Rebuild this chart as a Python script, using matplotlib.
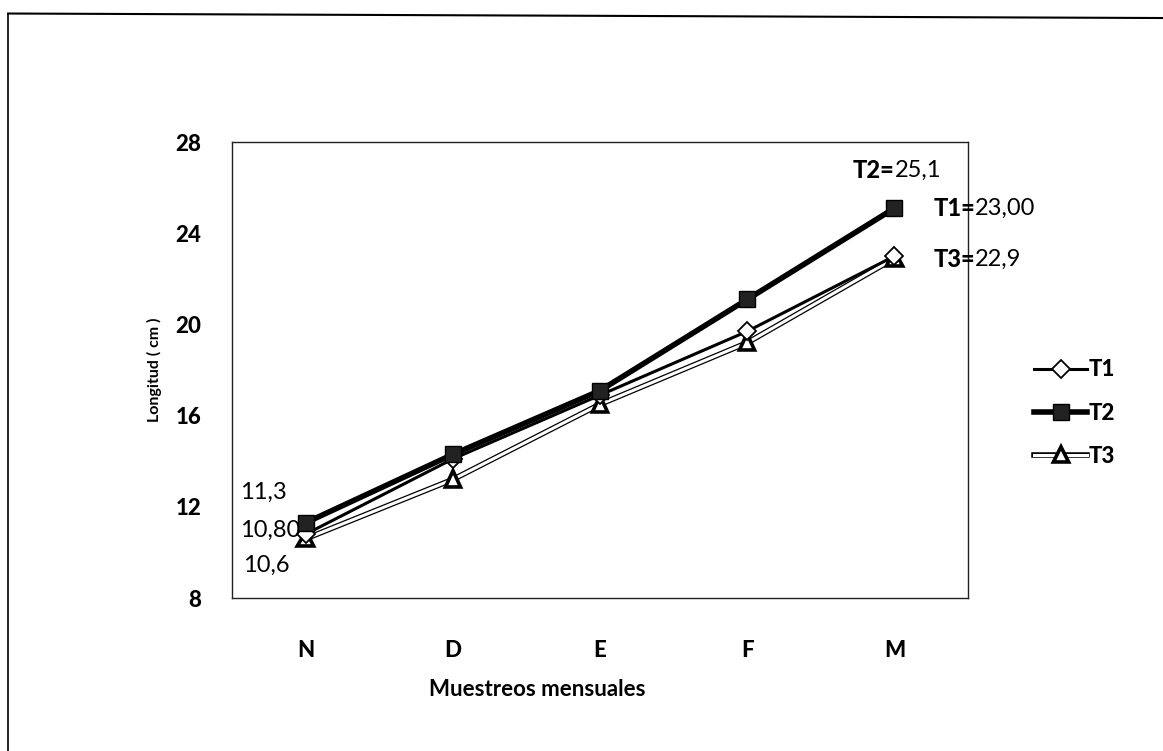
import matplotlib.pyplot as plt
import matplotlib.patheffects as pe
from matplotlib.lines import Line2D
import numpy as np

plt.rcParams['font.family'] = ['Lato', 'DejaVu Sans']

meses = ['N', 'D', 'E', 'F', 'M']
T1 = [10.8, 14.1, 16.9, 19.7, 23.0]
T2 = [11.3, 14.3, 17.1, 21.1, 25.1]
T3 = [10.6, 13.2, 16.5, 19.2, 22.9]

x = np.arange(len(meses))

fig = plt.figure(figsize=(11.63, 7.51), dpi=100)
ax = fig.add_axes([0.1995, 0.2037, 0.6328, 0.607])

# T3: linea blanca con contorno negro
ax.plot(x, T3, color='white', lw=2.2, marker='^', markersize=9,
        markerfacecolor='white', markeredgecolor='black', markeredgewidth=1.2,
        label='T3', zorder=2,
        path_effects=[pe.Stroke(linewidth=4, foreground='black'), pe.Normal()])
ax.plot(x, T1, color='black', lw=2.2, marker='D', markersize=9,
        markerfacecolor='white', markeredgecolor='black', markeredgewidth=1.3,
        label='T1', zorder=3)
ax.plot(x, T2, color='black', lw=4, marker='s', markersize=11,
        markerfacecolor='#222222', markeredgecolor='black',
        label='T2', zorder=4)

ax.set_xlim(-0.5, len(meses) - 0.5)
ax.set_ylim(8, 28)
ax.set_yticks(range(8, 29, 4))
ax.set_xticks(x)
ax.set_xticklabels(meses)
ax.tick_params(axis='both', length=0, labelsize=16)
ax.tick_params(axis='y', pad=22)
ax.tick_params(axis='x', pad=30)
for lab in ax.get_xticklabels() + ax.get_yticklabels():
    lab.set_fontweight('black')
for s in ax.spines.values():
    s.set_linewidth(1.0)
    s.set_color('#222222')

ax.set_ylabel('Longitud ( cm )', fontsize=11.5, fontweight='bold', labelpad=10)
fig.text(0.462, 0.082, 'Muestreos mensuales', fontsize=16, fontweight='bold',
         ha='center', va='center')

# etiquetas de valores
fsz = 17


def etiqueta(serie, i, nombre, valor, dx, dy):
    t = ax.annotate(nombre, (x[i], serie[i]), xytext=(dx, dy),
                    textcoords='offset points', fontsize=fsz,
                    fontweight='black', ha='left', va='center')
    ax.annotate(valor, xy=(1, 0.5), xycoords=t, xytext=(0, 0),
                textcoords='offset points', fontsize=fsz, ha='left', va='center')


ax.annotate('11,3', (x[0], T2[0]), xytext=(-47, 22), textcoords='offset points',
            fontsize=fsz, ha='left', va='center')
ax.annotate('10,80', (x[0], T1[0]), xytext=(-47, 3), textcoords='offset points',
            fontsize=fsz, ha='left', va='center')
ax.annotate('10,6', (x[0], T3[0]), xytext=(-45, -19), textcoords='offset points',
            fontsize=fsz, ha='left', va='center')

etiqueta(T2, -1, 'T2=', '25,1', -30, 27)
etiqueta(T2, -1, 'T1=', '23,00', 28, 0)
etiqueta(T3, -1, 'T3=', '22,9', 28, -1)

handles, labels = ax.get_legend_handles_labels()
order = [labels.index(n) for n in ['T1', 'T2', 'T3']]
leg = fig.legend([handles[i] for i in order], [labels[i] for i in order],
                 loc='center left', bbox_to_anchor=(0.872, 0.45), frameon=False,
                 handlelength=2.4, handletextpad=0.05, labelspacing=1.0,
                 prop={'size': 16, 'weight': 'black'})

# borde exterior
fig.add_artist(Line2D([0.007, 0.007], [0.0, 0.982], color='black', lw=1.2))
fig.add_artist(Line2D([0.007, 1.0], [0.982, 0.976], color='black', lw=1.5))

fig.savefig('out.png', dpi=100)
